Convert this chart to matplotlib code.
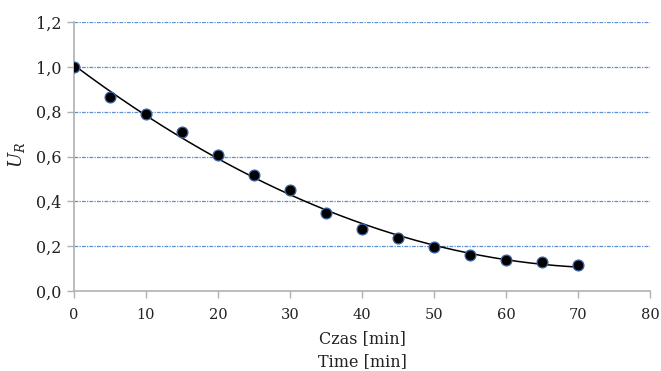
import numpy as np
import matplotlib
matplotlib.use("Agg")
import matplotlib.pyplot as plt
from matplotlib.ticker import FuncFormatter

# Data
time_min = [0, 5, 10, 15, 20, 25, 30, 35, 40, 45, 50, 55, 60, 65, 70]
u_r = [1.00, 0.867, 0.788, 0.708, 0.607, 0.517, 0.449, 0.348, 0.278, 0.238, 0.198, 0.159, 0.138, 0.128, 0.117]
x_ticks = [0, 10, 20, 30, 40, 50, 60, 70, 80]
y_ticks = [0.0, 0.2, 0.4, 0.6, 0.8, 1.0, 1.2]

plt.rcParams['font.family'] = ['DejaVu Serif', 'Liberation Serif']
plt.rcParams['mathtext.fontset'] = 'dejavuserif'

fig = plt.figure(figsize=(6.61, 3.71), dpi=100)
ax = fig.add_axes([74/661, 1 - 291/371, (650-74)/661, (291-22)/371])

# trendline (polynomial fit, as in the original spreadsheet trendline)
coef = np.polyfit(time_min, u_r, 2)
xt = np.linspace(min(time_min), max(time_min), 200)
ax.plot(xt, np.polyval(coef, xt), color='black', lw=1.1, zorder=3)

ax.plot(time_min, u_r, 'o', color='black', markersize=7.8,
        markeredgecolor='#3A64A8', markeredgewidth=0.9, zorder=4)

ax.set_xlim(0, 80)
ax.set_ylim(0, 1.2)
ax.set_xticks(x_ticks)
ax.set_yticks(y_ticks)
ax.yaxis.set_major_formatter(FuncFormatter(lambda v, p: f"{v:.1f}".replace('.', ',')))
ax.xaxis.set_major_formatter(FuncFormatter(lambda v, p: f"{v:.0f}"))

for y in y_ticks[1:]:
    ax.axhline(y, color='#5B8FD0', lw=0.9, ls=(0, (3, 1, 1, 1)), zorder=1)

for s in ['top', 'right']:
    ax.spines[s].set_visible(False)
for s in ['left', 'bottom']:
    ax.spines[s].set_color('#B0B0B0')
    ax.spines[s].set_linewidth(1.2)

ax.tick_params(axis='both', colors='#B0B0B0', length=5, width=1.0,
               labelcolor='#222222')
ax.tick_params(axis='x', pad=7, labelsize=10.5)
ax.tick_params(axis='y', pad=4, labelsize=11.5)

ax.set_xlabel("Czas [min]\nTime [min]", fontsize=11.5, color='#222222', linespacing=1.45)
ax.xaxis.set_label_coords(0.5, -0.145, transform=ax.transAxes)
ax.xaxis.label.set_va('top')
ax.set_ylabel(r"$U_R$", fontsize=13, color='#222222', va='center')
ax.yaxis.set_label_coords(-0.100, 0.505)

fig.savefig("out.png", dpi=100)
